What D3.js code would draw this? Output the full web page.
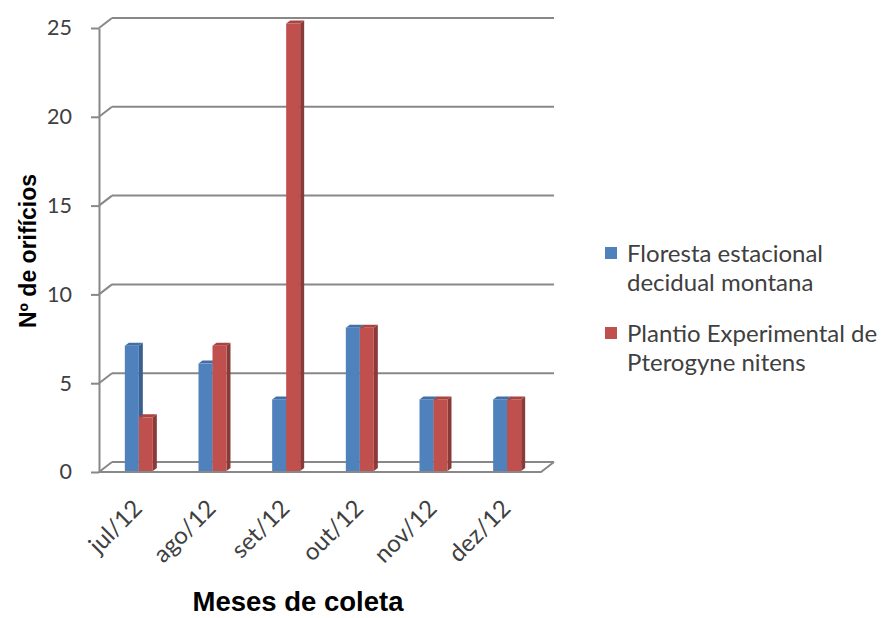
<!DOCTYPE html>
<html>
<head>
<meta charset="utf-8">
<script src="https://cdn.jsdelivr.net/npm/d3@7/dist/d3.min.js"></script>
<style>
  html, body { margin: 0; padding: 0; background: #ffffff; }
  svg { display: block; }
</style>
</head>
<body>
<svg id="chart" width="886" height="618"></svg>
<script>
// Monthly counts of holes per site
const months = ["jul/12", "ago/12", "set/12", "out/12", "nov/12", "dez/12"];
const floresta = [7, 6, 4, 8, 4, 4];
const plantio = [3, 7, 25, 8, 4, 4];
const seriesNames = [
  ["Floresta estacional", "decidual montana"],
  ["Plantio Experimental de", "Pterogyne nitens"]
];
const yTicks = [0, 5, 10, 15, 20, 25];

const palette = [
  { front: "#4F81BD", side: "#3A6090", top: "#426FA6" },
  { front: "#C0504D", side: "#8A3A38", top: "#A84542" }
];

const svg = d3.select("#chart");
const gridColor = "#888888";
const bodyFont = "Lato, 'Open Sans', sans-serif";
const titleFont = "'Liberation Sans', Arial, sans-serif";

// front plane of the 3D box and the depth offset of the back wall
const plotLeft = 99, plotRight = 541, plotBottom = 472, plotTop = 28;
const depthX = 13, depthY = -10;

const x = d3.scaleBand().domain(months).range([plotLeft, plotRight]);
const y = d3.scaleLinear().domain([0, 25]).range([plotBottom, plotTop]);
// bars stand a little inside the box, on their own plane
const yBar = d3.scaleLinear().domain([0, 25]).range([471, 23.5]);
const barShift = 3, barW = 14, barDX = 4, barDY = -3;

// back wall gridlines with their diagonal on the left wall
const grid = svg.append("g");
yTicks.forEach(t => {
  const yy = y(t);
  grid.append("line")
    .attr("x1", plotLeft).attr("y1", yy)
    .attr("x2", plotLeft + depthX).attr("y2", yy + depthY)
    .attr("stroke", gridColor).attr("stroke-width", 2);
  grid.append("line")
    .attr("x1", plotLeft + depthX).attr("y1", yy + depthY)
    .attr("x2", plotRight + depthX).attr("y2", yy + depthY)
    .attr("stroke", gridColor).attr("stroke-width", 2);
});
// floor outline
grid.append("path")
  .attr("d", `M${plotLeft},${plotBottom}L${plotRight},${plotBottom}L${plotRight + depthX},${plotBottom + depthY}`)
  .attr("fill", "none").attr("stroke", gridColor).attr("stroke-width", 2);

// y axis
const yAxis = svg.append("g")
  .attr("transform", `translate(${plotLeft},0)`)
  .call(d3.axisLeft(y).tickValues(yTicks).tickSize(8).tickPadding(19).tickSizeOuter(0));
yAxis.select(".domain").attr("stroke", gridColor).attr("stroke-width", 2);
yAxis.selectAll(".tick line").attr("stroke", gridColor).attr("stroke-width", 2);
yAxis.selectAll(".tick text")
  .attr("fill", "#404040")
  .style("font-family", bodyFont)
  .style("font-size", "21.5px");

// 3D columns
const bars = svg.append("g");
months.forEach((m, i) => {
  const cx = x(m) + x.bandwidth() / 2 + barShift;
  [floresta[i], plantio[i]].forEach((v, s) => {
    const x0 = cx - barW + s * barW;
    const x1 = x0 + barW;
    const yt = yBar(v), yb = yBar(0);
    const c = palette[s];
    const g = bars.append("g");
    g.append("path")
      .attr("d", `M${x1},${yt}L${x1 + barDX},${yt + barDY}L${x1 + barDX},${yb + barDY}L${x1},${yb}Z`)
      .attr("fill", c.side);
    g.append("path")
      .attr("d", `M${x0},${yt}L${x0 + barDX},${yt + barDY}L${x1 + barDX},${yt + barDY}L${x1},${yt}Z`)
      .attr("fill", c.top);
    g.append("rect")
      .attr("x", x0).attr("y", yt)
      .attr("width", barW).attr("height", yb - yt)
      .attr("fill", c.front);
  });
});

// x category labels, rotated
const xl = svg.append("g");
months.forEach(m => {
  const cx = x(m) + x.bandwidth() / 2 - 4;
  xl.append("text")
    .attr("transform", `translate(${cx},${498}) rotate(-45)`)
    .attr("text-anchor", "end")
    .attr("dy", "0.7em")
    .attr("fill", "#404040")
    .style("font-family", bodyFont)
    .style("font-size", "24px")
    .text(m);
});

// axis titles
svg.append("text")
  .attr("x", 298).attr("y", 611)
  .attr("text-anchor", "middle")
  .attr("fill", "#000000")
  .style("font-family", titleFont)
  .style("font-weight", "bold")
  .style("font-size", "27.5px")
  .text("Meses de coleta");

svg.append("text")
  .attr("transform", "translate(36,251) rotate(-90)")
  .attr("text-anchor", "middle")
  .attr("fill", "#000000")
  .style("font-family", titleFont)
  .style("font-weight", "bold")
  .style("font-size", "23px")
  .text("Nº de orifícios");

// legend
const legend = svg.append("g");
const legendTop = [247, 327];
seriesNames.forEach((lines, s) => {
  legend.append("rect")
    .attr("x", 605).attr("y", legendTop[s])
    .attr("width", 12).attr("height", 12)
    .attr("fill", palette[s].front);
  lines.forEach((ln, k) => {
    legend.append("text")
      .attr("x", 627).attr("y", legendTop[s] + 15 + k * 29)
      .attr("fill", "#404040")
      .style("font-family", bodyFont)
      .style("font-size", "24px")
      .text(ln);
  });
});
</script>
</body>
</html>
